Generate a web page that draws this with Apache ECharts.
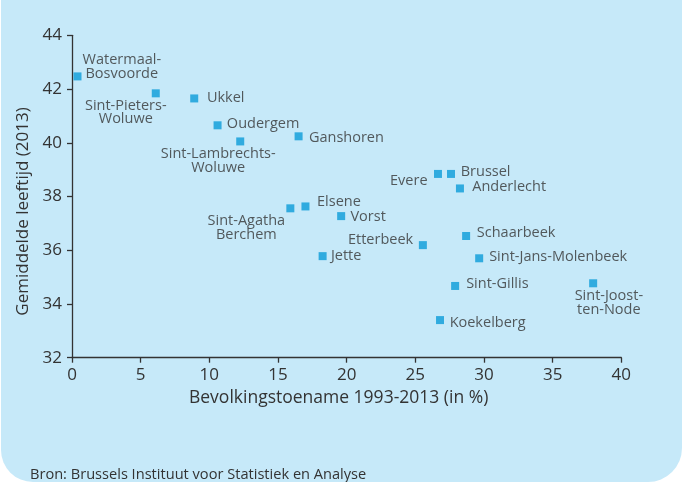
<!DOCTYPE html>
<html>
<head>
<meta charset="utf-8">
<script src="https://cdn.jsdelivr.net/npm/echarts@6/dist/echarts.min.js"></script>
<style>
html,body{margin:0;padding:0;background:#ffffff;}
#chart{width:685px;height:482px;}
</style>
</head>
<body>
<div id="chart"></div>
<script>
// ---- Data ----
var communes = [
  "Watermaal-Bosvoorde", "Sint-Pieters-Woluwe", "Ukkel", "Oudergem",
  "Sint-Lambrechts-Woluwe", "Ganshoren", "Sint-Agatha Berchem", "Elsene",
  "Vorst", "Jette", "Evere", "Brussel", "Anderlecht", "Schaarbeek",
  "Etterbeek", "Sint-Jans-Molenbeek", "Sint-Gillis", "Sint-Joost-ten-Node",
  "Koekelberg"
];
var growthPct = [
  0.4, 6.1, 8.9, 10.6,
  12.25, 16.5, 15.9, 17.0,
  19.6, 18.25, 26.65, 27.6, 28.25, 28.7,
  25.55, 29.65, 27.9, 37.95,
  26.8
];
var meanAge = [
  42.47, 41.84, 41.65, 40.65,
  40.05, 40.24, 37.56, 37.63,
  37.27, 35.78, 38.84, 38.84, 38.3, 36.53,
  36.19, 35.7, 34.67, 34.77,
  33.4
];
var labelText = [
  "Watermaal-\nBosvoorde", "Sint-Pieters-\nWoluwe", "Ukkel", "Oudergem",
  "Sint-Lambrechts-\nWoluwe", "Ganshoren", "Sint-Agatha\nBerchem", "Elsene",
  "Vorst", "Jette", "Evere", "Brussel", "Anderlecht", "Schaarbeek",
  "Etterbeek", "Sint-Jans-Molenbeek", "Sint-Gillis", "Sint-Joost-\nten-Node",
  "Koekelberg"
];
var xTicks = [0, 5, 10, 15, 20, 25, 30, 35, 40];
var yTicks = [32, 34, 36, 38, 40, 42, 44];
var xName = "Bevolkingstoename 1993-2013 (in %)";
var yName = "Gemiddelde leeftijd (2013)";
var sourceText = "Bron: Brussels Instituut voor Statistiek en Analyse";

// ---- Label placement (styling, kept apart from data) ----
var labelPlace = {
  "Watermaal-Bosvoorde":   {align: "center", off: [44.3, -9.3]},
  "Sint-Pieters-Woluwe":   {align: "center", off: [-30, 19.2]},
  "Ukkel":                 {align: "left",   off: [12.7, -1]},
  "Oudergem":              {align: "left",   off: [9.3, -1.3]},
  "Sint-Lambrechts-Woluwe":{align: "center", off: [-22, 19.7]},
  "Ganshoren":             {align: "left",   off: [10.3, 2]},
  "Sint-Agatha Berchem":   {align: "center", off: [-44, 19.7]},
  "Elsene":                {align: "left",   off: [11.6, -4.6]},
  "Vorst":                 {align: "left",   off: [9.3, 0.7]},
  "Jette":                 {align: "left",   off: [8.3, 0]},
  "Evere":                 {align: "right",  off: [-10.4, 6.7]},
  "Brussel":               {align: "left",   off: [9.7, -1.7]},
  "Anderlecht":            {align: "left",   off: [12.3, -1.6]},
  "Schaarbeek":            {align: "left",   off: [10.7, -3.3]},
  "Etterbeek":             {align: "right",  off: [-9.7, -5]},
  "Sint-Jans-Molenbeek":   {align: "left",   off: [10, -1.6]},
  "Sint-Gillis":           {align: "left",   off: [11, -1.7]},
  "Sint-Joost-ten-Node":   {align: "center", off: [15.7, 19.7]},
  "Koekelberg":            {align: "left",   off: [9.6, 2.3]}
};

var FONT = "'Open Sans', 'Noto Sans', sans-serif";
var TXT = "#333333";
var SYM = 8;
var HALF = SYM / 2;

var points = communes.map(function (n, i) {
  var p = labelPlace[n];
  return {
    name: n,
    value: [growthPct[i], meanAge[i]],
    label: {
      show: true,
      position: [HALF + p.off[0], HALF + p.off[1]],
      align: p.align,
      verticalAlign: "middle",
      formatter: labelText[i]
    }
  };
});

var chart = echarts.init(document.getElementById("chart"), null, {renderer: "canvas"});
chart.setOption({
  animation: false,
  backgroundColor: "#ffffff",
  textStyle: {fontFamily: FONT},
  graphic: [
    {
      type: "rect", z: -10, silent: true,
      shape: {x: 1, y: -40, width: 681, height: 522, r: [0, 0, 34, 32]},
      style: {fill: "#c6e9f9"}
    },
    {
      type: "text", z: 10, silent: true,
      style: {
        text: sourceText, x: 30, y: 475, verticalAlign: "middle",
        fill: TXT, font: "14.6px " + FONT
      }
    }
  ],
  grid: {left: 72, right: 63.7, top: 35.3, bottom: 124.3, containLabel: false, outerBoundsMode: "none"},
  xAxis: {
    type: "value", min: xTicks[0], max: xTicks[xTicks.length - 1], interval: xTicks[1] - xTicks[0],
    name: xName, nameLocation: "middle", nameGap: 31,
    nameTextStyle: {color: TXT, fontSize: 17.5, fontFamily: FONT, padding: [0, 16, 0, 0]},
    axisLine: {show: true, onZero: false, lineStyle: {color: "#333333", width: 1.3}},
    axisTick: {show: true, inside: false, length: 5, lineStyle: {color: "#333333", width: 1.3}},
    axisLabel: {color: TXT, fontSize: 17, margin: 9, fontFamily: FONT},
    splitLine: {show: false}
  },
  yAxis: {
    type: "value", min: yTicks[0], max: yTicks[yTicks.length - 1], interval: yTicks[1] - yTicks[0],
    name: yName, nameLocation: "middle", nameGap: 39,
    nameTextStyle: {color: TXT, fontSize: 17, fontFamily: FONT, padding: [0, 30, 0, 0]},
    axisLine: {show: true, onZero: false, lineStyle: {color: "#333333", width: 1.3}},
    axisTick: {show: true, inside: false, length: 5, lineStyle: {color: "#333333", width: 1.3}},
    axisLabel: {color: TXT, fontSize: 17, margin: 10, fontFamily: FONT},
    splitLine: {show: false}
  },
  series: [{
    type: "scatter",
    symbol: "rect",
    symbolSize: SYM,
    itemStyle: {color: "#0a9bd8"},
    label: {color: TXT, fontSize: 14.5, lineHeight: 13.5, fontFamily: FONT},
    emphasis: {disabled: true},
    data: points
  }]
});
</script>
</body>
</html>
